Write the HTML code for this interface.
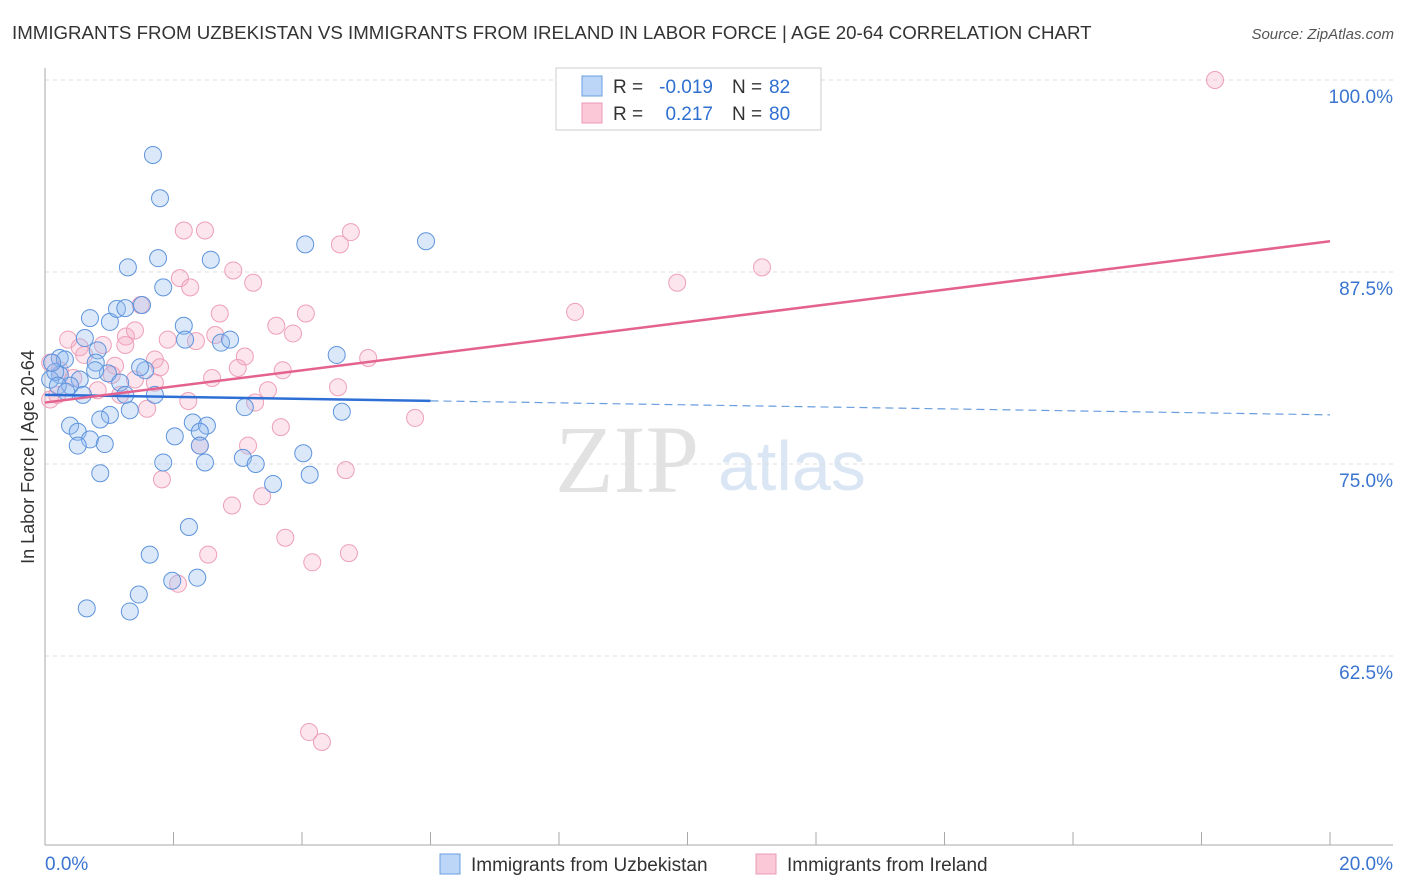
<!DOCTYPE html>
<html><head><meta charset="utf-8"><style>
body{margin:0;background:#fff;font-family:"Liberation Sans",sans-serif;}
svg{display:block}
</style></head><body>
<svg id="chart" width="1406" height="892" xmlns="http://www.w3.org/2000/svg" font-family="Liberation Sans, sans-serif">
<text x="12" y="39" font-size="18.7" fill="#333">IMMIGRANTS FROM UZBEKISTAN VS IMMIGRANTS FROM IRELAND IN LABOR FORCE | AGE 20-64 CORRELATION CHART</text>
<text x="1394" y="39" font-size="15" fill="#555" font-style="italic" text-anchor="end">Source: ZipAtlas.com</text>
<g>
<text x="555" y="492" font-size="96" font-family="Liberation Serif, serif" fill="#e2e2e2">ZIP</text>
<text x="718" y="490" font-size="70" fill="#dbe6f5">atlas</text>
</g>
<g id="grid"></g>
<g id="axes"></g>
<g id="pts"></g>
<g id="trends"></g>
<g>
<rect x="556" y="68" width="265" height="62" fill="#fff" stroke="#ccc"/>
<rect x="582" y="76" width="20" height="20" fill="#bcd6f7" stroke="#6a9ee0"/>
<rect x="582" y="103" width="20" height="20" fill="#fac8d7" stroke="#eb9ab3"/>
<g font-size="19">
<text x="613" y="93" fill="#333">R =</text>
<text x="713" y="93" fill="#2f6fd0" text-anchor="end">-0.019</text>
<text x="732" y="93" fill="#333">N =</text>
<text x="769" y="93" fill="#2f6fd0">82</text>
</g>
<g font-size="19">
<text x="613" y="120" fill="#333">R =</text>
<text x="713" y="120" fill="#2f6fd0" text-anchor="end">0.217</text>
<text x="732" y="120" fill="#333">N =</text>
<text x="769" y="120" fill="#2f6fd0">80</text>
</g>
</g>
<g>
<rect x="440" y="854" width="20" height="20" fill="#bcd6f7" stroke="#6a9ee0"/>
<text x="471" y="871" font-size="19" fill="#333">Immigrants from Uzbekistan</text>
<rect x="756" y="854" width="20" height="20" fill="#fac8d7" stroke="#eb9ab3"/>
<text x="787" y="871" font-size="19" fill="#333">Immigrants from Ireland</text>
</g>
<text transform="translate(34,457) rotate(-90)" font-size="18" fill="#333" text-anchor="middle">In Labor Force | Age 20-64</text>
</svg>
<script>
const yTicks=[100,87.5,75,62.5];
const yTickLabels=["100.0%","87.5%","75.0%","62.5%"];
const xTicks=[0,2,4,6,8,10,12,14,16,18,20];
const blueX=[1.68,1.79,1.76,1.29,1.84,2.58,4.05,5.93,0.70,1.01,1.12,1.25,1.51,2.16,2.18,2.74,4.54,0.23,0.31,0.62,0.82,0.79,0.98,0.54,0.23,0.08,0.39,1.17,1.56,1.71,3.11,4.62,1.32,1.01,0.86,0.39,0.51,0.70,0.93,0.51,0.86,2.02,2.30,2.52,2.41,2.41,1.84,2.49,3.08,3.28,4.02,4.12,3.55,2.24,1.63,1.98,2.37,0.65,1.46,1.32,0.16,0.11,0.20,0.33,0.59,0.78,1.25,2.88,1.48];
const blueY=[95.12,92.3,88.4,87.8,86.5,88.3,89.3,89.5,84.5,84.25,85.1,85.15,85.35,84.0,83.1,82.9,82.1,81.9,81.8,83.2,82.4,81.6,80.9,80.5,80.8,80.5,80.1,80.3,81.1,79.5,78.7,78.4,78.5,78.2,77.9,77.5,77.1,76.6,76.3,76.2,74.4,76.8,77.7,77.5,77.1,76.2,75.1,75.1,75.4,75.0,75.7,74.3,73.7,70.9,69.1,67.4,67.6,65.6,66.5,65.4,81.0,81.6,80.1,79.7,79.5,81.1,79.5,83.1,81.3];
const pinkX=[18.21,2.16,2.49,4.76,4.59,2.93,3.24,2.10,2.26,9.84,11.16,8.25,1.49,2.72,4.06,3.60,3.86,2.65,1.91,2.35,1.26,0.90,0.36,0.54,0.61,3.11,5.03,1.71,1.79,1.09,3.00,3.70,0.08,0.23,0.44,1.40,1.71,2.60,4.56,3.47,0.82,1.17,3.27,2.23,1.59,5.76,3.67,2.41,3.16,4.68,1.82,2.91,3.38,2.54,3.74,4.73,4.16,2.07,4.11,4.31,0.08,0.19,1.04,1.25,1.40];
const pinkY=[100,90.2,90.2,90.1,89.3,87.6,86.8,87.1,86.5,86.8,87.8,84.9,85.35,84.8,84.8,84.0,83.5,83.4,83.1,83.0,83.3,82.75,83.1,82.6,82.1,82.0,81.9,81.8,81.3,81.4,81.25,81.1,81.6,81.1,80.6,80.5,80.3,80.6,80.0,79.8,79.8,79.5,79.0,79.1,78.6,78.0,77.4,76.2,76.2,74.6,74.0,72.3,72.9,69.1,70.2,69.2,68.6,67.2,57.55,56.9,79.2,79.5,80.8,82.75,83.7];
const blueTrend=[79.5,78.2];
const pinkTrend=[79.0,89.5];
const NS="http://www.w3.org/2000/svg";
const X=v=>45+v*64.25, Y=v=>80+(100-v)*15.36;
function mk(t,a,p){const e=document.createElementNS(NS,t);for(const k in a)e.setAttribute(k,a[k]);p.appendChild(e);return e;}
const grid=document.getElementById('grid'),axes=document.getElementById('axes');
yTicks.forEach((t,i)=>{
 const g=mk('line',{x1:45,x2:1393,y1:Y(t),y2:Y(t),stroke:'#ddd','stroke-dasharray':'4,4'},grid);
 
 
 const l=mk('text',{x:1393,y:Y(t)+23,'font-size':19,fill:'#3a74d0','text-anchor':'end'},axes);
 l.textContent=yTickLabels[i];
 
 
});
mk('line',{x1:45,x2:45,y1:68,y2:845,stroke:'#aaa'},axes);
mk('line',{x1:45,x2:1393,y1:845,y2:845,stroke:'#aaa'},axes);
xTicks.forEach(t=>{const k=mk('line',{x1:X(t),x2:X(t),y1:832,y2:845,stroke:'#aaa'},axes);
 
 });
const xl0=mk('text',{x:45,y:870,'font-size':19,fill:'#3a74d0'},axes);xl0.textContent='0.0%';


const xl1=mk('text',{x:1393,y:870,'font-size':19,fill:'#3a74d0','text-anchor':'end'},axes);xl1.textContent='20.0%';


const pts=document.getElementById('pts');
pinkX.forEach((v,i)=>{const c=mk('circle',{cx:X(v),cy:Y(pinkY[i]),r:8.5,fill:'rgba(244,170,195,0.3)',stroke:'#eea0b8','stroke-width':1},pts);
 
 });
blueX.forEach((v,i)=>{const c=mk('circle',{cx:X(v),cy:Y(blueY[i]),r:8.5,fill:'rgba(150,190,240,0.35)',stroke:'#5f94dc','stroke-width':1},pts);
 
 });
const tr=document.getElementById('trends');
const by=x=>blueTrend[0]+(blueTrend[1]-blueTrend[0])*x/20;
const b1=mk('line',{x1:X(0),y1:Y(by(0)),x2:X(6),y2:Y(by(6)),stroke:'#2e6fd6','stroke-width':2.5},tr);


const b2=mk('line',{x1:X(6),y1:Y(by(6)),x2:X(20),y2:Y(by(20)),stroke:'#6a9ee0','stroke-width':1.2,'stroke-dasharray':'8,5'},tr);


const p1=mk('line',{x1:X(0),y1:Y(pinkTrend[0]),x2:X(20),y2:Y(pinkTrend[1]),stroke:'#e4638e','stroke-width':2.5},tr);


</script>
</body></html>
